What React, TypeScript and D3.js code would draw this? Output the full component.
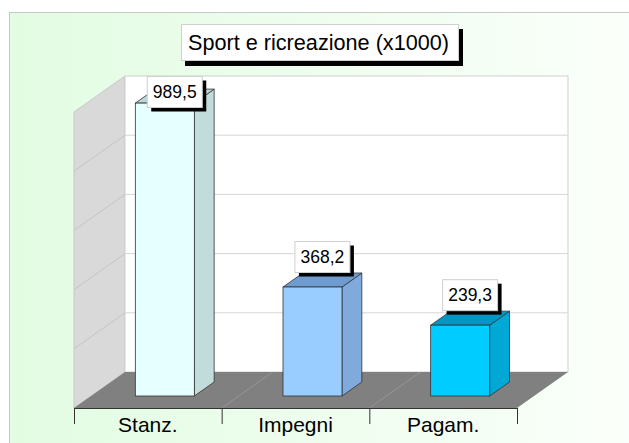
import React from 'react';
import * as d3 from 'd3';

// data
const categories = ['Stanz.', 'Impegni', 'Pagam.'];
const values = [989.5, 368.2, 239.3];
const yTicks = [0, 200, 400, 600, 800, 1000];
const title = 'Sport e ricreazione (x1000)';

// colours per bar: front, side, top
const frontColors = ['#E6FFFF', '#99CCFF', '#00CCFF'];
const sideColors = ['#C2DCDC', '#80AADC', '#00A8D6'];
const topColors = ['#BBD6D6', '#6F9CD0', '#0096C6'];

// constants
const width = 629;
const height = 443;
const wall = { left: 125, right: 568, top: 76, bottom: 372 };
const depth = { dx: -51, dy: 36 };
const barFrontZ = 24 / 36;
const barBackZ = 10 / 36;
const barWidth = 59;
const font = 'Arial, "Liberation Sans", sans-serif';

const locale = d3.formatLocale({ decimal: ',', thousands: '.', grouping: [3], currency: ['', '€'] });
const fmt = locale.format('.1f');

const App = () => {
  const xScale = d3.scaleBand<string>()
    .domain(categories)
    .range([wall.left, wall.right]);
  const yScale = d3.scaleLinear()
    .domain([0, 1000])
    .range([wall.bottom, wall.top]);

  const off = (z: number) => [depth.dx * z, depth.dy * z];
  const pts = (arr: number[][]) => arr.map(p => p.join(',')).join(' ');

  const [fdx, fdy] = off(1);
  const floor = pts([
    [wall.left, wall.bottom], [wall.right, wall.bottom],
    [wall.right + fdx, wall.bottom + fdy], [wall.left + fdx, wall.bottom + fdy],
  ]);
  const leftWall = pts([
    [wall.left, wall.top], [wall.left, wall.bottom],
    [wall.left + fdx, wall.bottom + fdy], [wall.left + fdx, wall.top + fdy],
  ]);

  const bounds = categories.map(c => xScale(c) as number).concat([wall.right]);

  return (
    <svg width={width} height={height} style={{ position: 'absolute', left: 0, top: 0 }}>
      <defs>
        <linearGradient id="bg" x1="0" x2="1" y1="0" y2="0">
          <stop offset="0%" stopColor="#E2FCE2" />
          <stop offset="100%" stopColor="#FBFFFB" />
        </linearGradient>
      </defs>
      <rect x={0} y={0} width={width} height={height} fill="#fff" />
      <rect x={9.5} y={12.5} width={width} height={height} fill="url(#bg)" stroke="#C8C8C8" />

      {/* title */}
      <rect x={185} y={29} width={278} height={37} fill="#000" />
      <rect x={181.5} y={24.5} width={277} height={36} fill="#fff" stroke="#D0D0D0" />
      <text x={318.5} y={50} textAnchor="middle" fontFamily={font} fontSize={22}
        textLength={261} lengthAdjust="spacingAndGlyphs" fill="#000">{title}</text>

      {/* walls */}
      <polygon points={leftWall} fill="#D9D9D9" stroke="#C8C8C8" />
      <rect x={wall.left} y={wall.top} width={wall.right - wall.left} height={wall.bottom - wall.top}
        fill="#fff" stroke="#CFCFCF" />
      {yTicks.slice(1, -1).map(t => (
        <g key={t}>
          <line x1={wall.left} x2={wall.right} y1={yScale(t)} y2={yScale(t)} stroke="#D6D6D6" />
          <line x1={wall.left} x2={wall.left + fdx} y1={yScale(t)} y2={yScale(t) + fdy} stroke="#C4C4C4" />
        </g>
      ))}
      <polygon points={floor} fill="#808080" />
      {bounds.slice(1, -1).map((b, i) => (
        <line key={i} x1={b} y1={wall.bottom} x2={b + fdx} y2={wall.bottom + fdy} stroke="#9A9A9A" strokeWidth={0.8} />
      ))}

      {/* axis */}
      <line x1={wall.left + fdx} x2={wall.right + fdx} y1={wall.bottom + fdy + 0.5} y2={wall.bottom + fdy + 0.5} stroke="#333" />
      {bounds.map((b, i) => (
        <line key={i} x1={b + fdx + 0.5} x2={b + fdx + 0.5} y1={wall.bottom + fdy} y2={wall.bottom + fdy + 16} stroke="#333" />
      ))}
      {categories.map(c => (
        <text key={c} x={(xScale(c) as number) + xScale.bandwidth() / 2 + fdx} y={432}
          textAnchor="middle" fontFamily={font} fontSize={21} fill="#000">{c}</text>
      ))}

      {/* bars */}
      {categories.map((c, i) => {
        const cx = (xScale(c) as number) + xScale.bandwidth() / 2;
        const [ax, ay] = off(barFrontZ);
        const [bx, by] = off(barBackZ);
        const x0 = cx - barWidth / 2 + ax;
        const x1 = cx + barWidth / 2 + ax;
        const yT = yScale(values[i]) + ay;
        const yB = yScale(0) + ay;
        const ddx = bx - ax;
        const ddy = by - ay;
        const top = pts([[x0, yT], [x1, yT], [x1 + ddx, yT + ddy], [x0 + ddx, yT + ddy]]);
        const side = pts([[x1, yT], [x1 + ddx, yT + ddy], [x1 + ddx, yB + ddy], [x1, yB]]);
        const lblX = (x0 + x1 + ddx) / 2;
        const lblCy = yT + ddy / 2 - 23;
        const bw = 55;
        const bh = 31;
        const by0 = Math.max(wall.top + 0.5, lblCy - bh / 2);
        return (
          <g key={c}>
            <polygon points={side} fill={sideColors[i]} stroke="#333" strokeWidth={0.8} />
            <polygon points={top} fill={topColors[i]} stroke="#333" strokeWidth={0.8} />
            <rect x={x0} y={yT} width={x1 - x0} height={yB - yT} fill={frontColors[i]} stroke="#333" strokeWidth={0.8} />
            <rect x={lblX - bw / 2 + 4} y={by0 + 4} width={bw} height={bh} fill="#000" />
            <rect x={lblX - bw / 2} y={by0} width={bw} height={bh} fill="#fff" stroke="#D0D0D0" />
            <text x={lblX} y={by0 + bh / 2 + 6} textAnchor="middle" fontFamily={font} fontSize={17.5} fill="#000">
              {fmt(values[i])}
            </text>
          </g>
        );
      })}
    </svg>
  );
};

export default App;
